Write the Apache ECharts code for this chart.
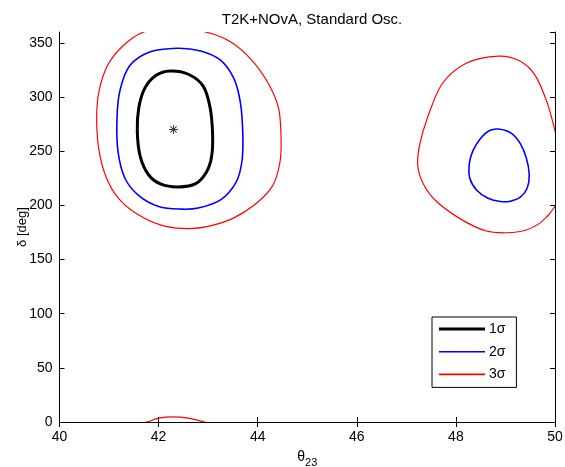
<!DOCTYPE html>
<html><head><meta charset="utf-8">
<script src="https://cdn.jsdelivr.net/npm/echarts@6/dist/echarts.min.js"></script>
<style>html,body{margin:0;padding:0;background:#fff}#c{width:565px;height:467px}</style>
</head><body><div id="c"></div>
<script>
const xTicks = [40, 42, 44, 46, 48, 50];
const yTicks = [0, 50, 100, 150, 200, 250, 300, 350];
const bestFit = [[42.3, 270]];
const sigma1 = [[42.23,324],[42.6,321],[42.9,310],[43.04,290],[43.09,265],[43.07,245],[42.97,231],[42.75,220],[42.4,217],[42.05,219.5],[41.8,228],[41.63,245],[41.57,268],[41.6,290],[41.72,308],[41.95,320]];
const sigma2a = [[42.37,345],[42.85,342.5],[43.25,334],[43.52,317],[43.65,295],[43.7,265],[43.68,240],[43.56,221],[43.25,205],[42.8,197.5],[42.45,196.5],[42.0,199],[41.6,209],[41.32,225],[41.18,250],[41.16,280],[41.22,306],[41.42,329],[41.82,341.5]];
const sigma2b = [[48.86,270.4],[49.12,266.5],[49.3,257],[49.42,244],[49.48,228.7],[49.44,216],[49.3,207.5],[49.1,203.8],[48.9,203.5],[48.65,206.5],[48.42,214],[48.28,225],[48.27,238],[48.34,250],[48.5,262],[48.68,269]];
const sigma3a = [[42.3,364.5],[42.95,360],[43.45,351],[43.88,334],[44.22,312],[44.42,290],[44.47,265],[44.45,240],[44.3,218],[43.95,201],[43.5,188],[43.0,180.5],[42.6,178.5],[42.1,181],[41.6,191],[41.2,206],[40.95,225],[40.8,250],[40.75,280],[40.8,306],[40.98,330],[41.3,348],[41.7,360]];
const sigma3b = [[41.4,-3],[41.76,0],[42.0,3.5],[42.3,4.8],[42.6,3.5],[42.93,0],[43.25,-4]];
const sigma3c = [[48.86,337.7],[49.3,333],[49.6,320],[49.84,295],[50.0,268.8],[50.15,240],[50.12,215],[50.0,199.4],[49.72,184.5],[49.4,177],[49.03,174.7],[48.6,176.5],[48.09,187.5],[47.6,204],[47.34,220],[47.23,237],[47.27,256],[47.42,280],[47.72,312],[48.2,331]];

const FONT = 'Liberation Sans';
const chart = echarts.init(document.getElementById('c'), null, {renderer:'canvas'});
const axLine = {show:true, lineStyle:{color:'#000', width:1}};
const tick = {show:true, inside:true, length:5, lineStyle:{color:'#000'}};
const lbl = {color:'#000', fontFamily:FONT, fontSize:14};
const star = 'path://M-0.5,-5H0.5V5H-0.5Z M-5,-0.5H5V0.5H-5Z M-3.85,-3.15L-3.15,-3.85L3.85,3.15L3.15,3.85Z M-3.85,3.15L3.15,-3.85L3.85,-3.15L-3.15,3.85Z';

function splinePath(pts, closed) {
  const n = pts.length;
  const get = i => {
    if (closed) return pts[(i % n + n) % n];
    return pts[Math.max(0, Math.min(n - 1, i))];
  };
  let d = 'M' + pts[0][0] + ' ' + pts[0][1];
  const segs = closed ? n : n - 1;
  for (let i = 0; i < segs; i++) {
    const p0 = get(i - 1), p1 = get(i), p2 = get(i + 1), p3 = get(i + 2);
    const c1 = [p1[0] + (p2[0] - p0[0]) / 6, p1[1] + (p2[1] - p0[1]) / 6];
    const c2 = [p2[0] - (p3[0] - p1[0]) / 6, p2[1] - (p3[1] - p1[1]) / 6];
    d += 'C' + c1[0] + ' ' + c1[1] + ' ' + c2[0] + ' ' + c2[1] + ' ' + p2[0] + ' ' + p2[1];
  }
  if (closed) d += 'Z';
  return d;
}
function contour(name, data, color, w, closed) {
  return {
    type:'custom', name, data, animation:false, z:3, silent:true,
    itemStyle:{color},
    renderItem: function (params, api) {
      if (params.dataIndex !== 0) return null;
      const px = data.map(p => api.coord(p));
      const cs = params.coordSys;
      return {
        type:'group',
        clipPath:{type:'rect', shape:{x:cs.x, y:cs.y, width:cs.width, height:cs.height}},
        children:[{
          type:'path',
          shape:{pathData: splinePath(px, closed)},
          style:{fill:'none', stroke:color, lineWidth:w, lineJoin:'round'}
        }]
      };
    },
    encode:{x:0, y:1}
  };
}
chart.setOption({
  animation:false,
  backgroundColor:'#fff',
  title:{text:'T2K+NOvA, Standard Osc.', left:307, top:7, textAlign:'center', textStyle:{fontFamily:FONT, fontSize:15, fontWeight:'normal', color:'#000'}},
  grid:{left:59.5, right:10, top:32, bottom:45, containLabel:false, outerBoundsMode:'none'},
  legend:{
    data:[
      {name:'1σ', icon:'path://M0,0H46V3H0Z', itemStyle:{color:'#000'}},
      {name:'2σ', icon:'path://M0,0H46V1.6H0Z', itemStyle:{color:'#0000ff'}},
      {name:'3σ', icon:'path://M0,0H46V1.6H0Z', itemStyle:{color:'#ff0000'}}
    ],
    orient:'vertical', left:432, top:317, itemWidth:46, itemHeight:14, itemGap:8.7,
    padding:[5,11,6,7], borderColor:'#000', borderWidth:1, borderRadius:0, backgroundColor:'#fff',
    textStyle:{fontFamily:FONT, fontSize:14, color:'#000', padding:[0,0,0,-1]}, selectedMode:false},
  xAxis:[
    {type:'value', min:40, max:50, interval:2, position:'bottom', axisLine:axLine, axisTick:tick, splitLine:{show:false},
     axisLabel:Object.assign({margin:8}, lbl),
     name:'θ{s|23}', nameLocation:'middle', nameGap:25, nameMoveOverlap:false,
     nameTextStyle:{fontFamily:FONT, fontSize:14, color:'#000', rich:{s:{fontFamily:FONT, fontSize:11, color:'#000', verticalAlign:'bottom', padding:[10,0,0,0]}}}},
    {type:'value', min:40, max:50, interval:2, position:'top', axisLine:axLine, axisTick:tick, splitLine:{show:false}, axisLabel:{show:false}}
  ],
  yAxis:[
    {type:'value', min:0, max:360, interval:50, position:'left', axisLine:axLine, axisTick:tick, splitLine:{show:false},
     axisLabel:Object.assign({margin:7, showMaxLabel:false}, lbl),
     name:'δ [deg]', nameLocation:'middle', nameGap:31, nameRotate:90, nameMoveOverlap:false,
     nameTextStyle:{fontFamily:FONT, fontSize:13, color:'#000'}},
    {type:'value', min:0, max:360, interval:50, position:'right', axisLine:axLine, axisTick:tick, splitLine:{show:false}, axisLabel:{show:false}}
  ],
  series:[
    contour('1σ', sigma1, '#000', 3, true),
    contour('2σ', sigma2a, '#0000ff', 1.6, true),
    contour('3σ', sigma3a, '#ff0000', 1.2, true),
    contour('2σ', sigma2b, '#0000ff', 1.6, true),
    contour('3σ', sigma3c, '#ff0000', 1.2, true),
    contour('3σ', sigma3b, '#ff0000', 1.2, false),
    {type:'scatter', name:'best', data:bestFit, symbol:star, symbolSize:9, itemStyle:{color:'#000'}, z:5, silent:true}
  ]
});
</script></body></html>
